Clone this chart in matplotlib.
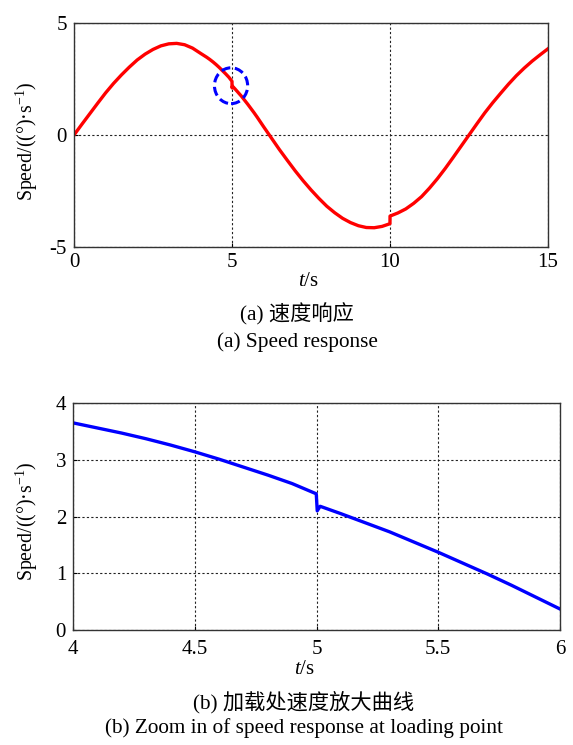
import matplotlib
matplotlib.use("Agg")
import matplotlib.pyplot as plt
from matplotlib.patches import Ellipse

plt.rcParams['font.family'] = ['Liberation Serif', 'Noto Sans CJK SC']
plt.rcParams['mathtext.fontset'] = 'custom'
plt.rcParams['mathtext.rm'] = 'Liberation Serif'
plt.rcParams['mathtext.it'] = 'Liberation Serif:italic'

# ---- data ----
t_data = [0, 0.25, 0.5, 0.75, 1, 1.25, 1.5, 1.75, 2, 2.25, 2.5, 2.75, 3, 3.25, 3.5, 3.75,
          4.0, 4.1, 4.2, 4.3, 4.4, 4.5, 4.6, 4.7, 4.8, 4.9, 4.999,
          5.003, 5.015, 5.1, 5.2, 5.3, 5.4, 5.5, 5.6, 5.7, 5.8, 5.9, 6.0,
          6.25, 6.5, 6.75, 7, 7.25, 7.5, 7.75, 8, 8.25, 8.5, 8.75, 9, 9.25, 9.5, 9.75,
          9.999, 10.001, 10.25, 10.5, 10.75, 11, 11.25, 11.5, 11.75, 12, 12.25, 12.5,
          12.75, 13, 13.25, 13.5, 13.75, 14, 14.25, 14.5, 14.75, 15]
speed = [0, 0.48, 0.95, 1.42, 1.88, 2.30, 2.68, 3.03, 3.35, 3.61, 3.82, 3.98, 4.07, 4.09, 4.03, 3.88,
         3.65, 3.56, 3.47, 3.37, 3.26, 3.14, 3.01, 2.87, 2.73, 2.58, 2.40,
         2.10, 2.18, 2.05, 1.89, 1.73, 1.55, 1.37, 1.18, 0.99, 0.79, 0.58, 0.37,
         -0.14, -0.65, -1.13, -1.60, -2.04, -2.45, -2.83, -3.18, -3.47, -3.72, -3.91, -4.05, -4.13, -4.14, -4.08,
         -3.96, -3.62, -3.48, -3.30, -3.05, -2.75, -2.37, -1.95, -1.49, -1.00, -0.50, 0.00,
         0.50, 0.99, 1.44, 1.86, 2.27, 2.65, 2.99, 3.30, 3.58, 3.85]

top_xticks = [0, 5, 10, 15]
top_yticks = [-5, 0, 5]
bot_xticks = [4, 4.5, 5, 5.5, 6]
bot_xticklabels = ['4', '4.5', '5', '5.5', '6']
bot_yticks = [0, 1, 2, 3, 4]

ylabel = 'Speed/((°)·s$^{-1}$)'
xlabel = '$t$/s'
cap_a1 = '(a) 速度响应'
cap_a2 = '(a) Speed response'
cap_b1 = '(b) 加载处速度放大曲线'
cap_b2 = '(b) Zoom in of speed response at loading point'

W, H = 573, 745
fig = plt.figure(figsize=(W / 100, H / 100), dpi=100)

def style(ax, xpad):
    for s in ax.spines.values():
        s.set_color('#333333')
        s.set_linewidth(1.0)
    ax.tick_params(direction='in', length=3, width=0.8, labelsize=15)
    ax.tick_params(axis='x', pad=xpad)
    ax.tick_params(axis='y', pad=5)
    ax.grid(True, color='#222222', linestyle=(0, (2, 2)), linewidth=0.8)

def place_labels(ax, L, R, T, B, xl, yl):
    w, h = R - L, B - T
    ax.set_xlabel(xlabel, fontsize=15)
    ax.set_ylabel(ylabel, fontsize=14.3)
    ax.xaxis.set_label_coords((xl[0] - L) / w, (B - xl[1]) / h)
    ax.xaxis.label.set_va('center')
    ax.yaxis.set_label_coords((yl[0] - L) / w, (B - yl[1]) / h)
    ax.yaxis.label.set_va('center')

# top panel
L1, R1, T1, B1 = 74, 548, 23, 247
ax1 = fig.add_axes([L1 / W, 1 - B1 / H, (R1 - L1) / W, (B1 - T1) / H])
ax1.plot(t_data, speed, color='#ff0000', lw=2.4)
ax1.set_xlim(0, 15)
ax1.set_ylim(-5, 5)
ax1.set_xticks(top_xticks)
ax1.set_yticks(top_yticks)
ax1.set_yticklabels([str(v) for v in top_yticks])
style(ax1, 4)
ax1.add_patch(Ellipse((4.97, 2.2), 1.05, 1.6, fill=False, edgecolor='#0000ff',
                      lw=2.2, linestyle=(0, (3, 1.5)), zorder=5))
place_labels(ax1, L1, R1, T1, B1, (308, 281), (27, 141))

# bottom panel
L2, R2, T2, B2 = 73, 560, 403, 630
ax2 = fig.add_axes([L2 / W, 1 - B2 / H, (R2 - L2) / W, (B2 - T2) / H])
ax2.plot(t_data, speed, color='#0000ff', lw=2.4)
ax2.set_xlim(4, 6)
ax2.set_ylim(0, 4)
ax2.set_xticks(bot_xticks)
ax2.set_xticklabels(bot_xticklabels)
ax2.set_yticks(bot_yticks)
style(ax2, 7)
place_labels(ax2, L2, R2, T2, B2, (304, 670), (27, 521))

fig.text(297 / W, 1 - 314 / H, cap_a1, ha='center', va='center', fontsize=15.3)
fig.text(297 / W, 1 - 342 / H, cap_a2, ha='center', va='center', fontsize=15.3)
fig.text(304 / W, 1 - 702 / H, cap_b1, ha='center', va='center', fontsize=15.3)
fig.text(304 / W, 1 - 728 / H, cap_b2, ha='center', va='center', fontsize=15.3)

fig.savefig('out.png', dpi=100, facecolor='white')
